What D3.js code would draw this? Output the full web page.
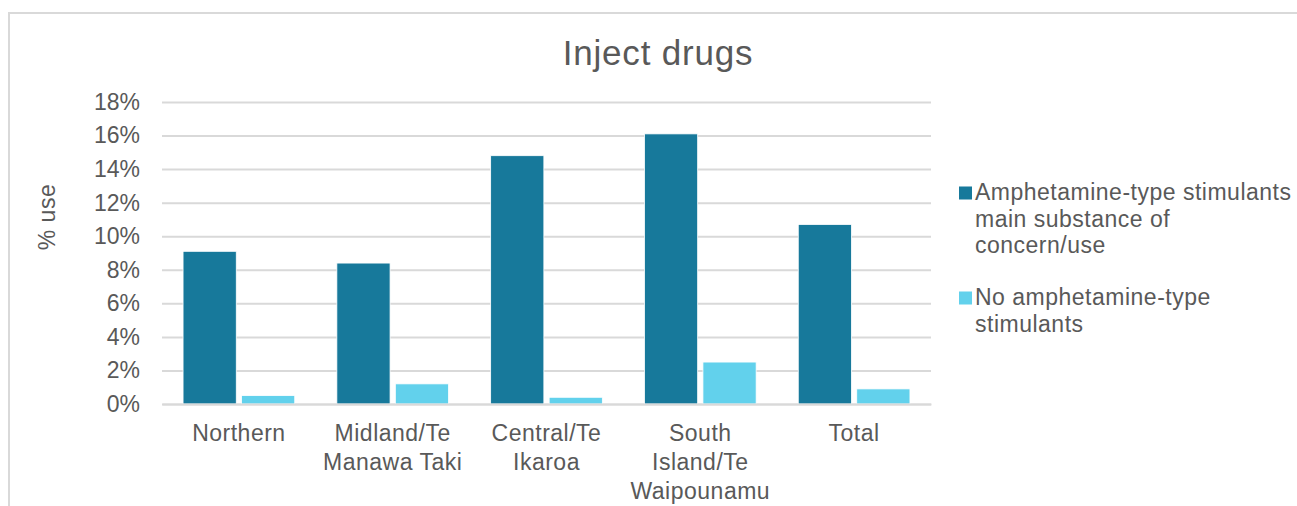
<!DOCTYPE html>
<html>
<head>
<meta charset="utf-8">
<script src="https://cdn.jsdelivr.net/npm/d3@7"></script>
<style>
  html, body { margin: 0; padding: 0; background: #fff; }
  svg { display: block; font-family: "Liberation Sans", Arial, sans-serif; }
</style>
</head>
<body>
<svg id="chart" width="1297" height="506"></svg>
<script>
// Regions and their wrapped axis labels
const categories = ["Northern", "Midland/Te Manawa Taki", "Central/Te Ikaroa", "South Island/Te Waipounamu", "Total"];
const categoryLines = [
  ["Northern"],
  ["Midland/Te", "Manawa Taki"],
  ["Central/Te", "Ikaroa"],
  ["South", "Island/Te", "Waipounamu"],
  ["Total"]
];

// Share injecting drugs, by group
const seriesNames = ["Amphetamine-type stimulants main substance of concern/use", "No amphetamine-type stimulants"];
const seriesLegendLines = [
  ["Amphetamine-type stimulants", "main substance of", "concern/use"],
  ["No amphetamine-type", "stimulants"]
];
const atsMain = [0.091, 0.084, 0.148, 0.161, 0.107];
const noAts = [0.005, 0.012, 0.004, 0.025, 0.009];
const seriesValues = [atsMain, noAts];
const seriesColors = ["#17799b", "#62d1ec"];

const yTicks = [0, 0.02, 0.04, 0.06, 0.08, 0.10, 0.12, 0.14, 0.16, 0.18];

const textColor = "#595959";
const gridColor = "#d9d9d9";
const labelSpacing = 0.5;

const svg = d3.select("#chart");

// Chart frame
svg.append("rect")
  .attr("x", 9).attr("y", 13)
  .attr("width", 1320).attr("height", 520)
  .attr("fill", "none")
  .attr("stroke", gridColor)
  .attr("stroke-width", 2);

const plot = { left: 162, right: 931, top: 102, bottom: 404 };

const x0 = d3.scaleBand().domain(categories).range([plot.left, plot.right]).padding(0);
const x1 = d3.scaleBand().domain(seriesNames).range([0, x0.bandwidth()])
  .paddingInner(0.09).paddingOuter(0.36);
const y = d3.scaleLinear().domain([0, 0.18]).range([plot.bottom, plot.top]);

// Title
svg.append("text")
  .attr("x", 658).attr("y", 65)
  .attr("text-anchor", "middle")
  .attr("font-size", 35)
  .attr("letter-spacing", 0.8)
  .attr("fill", textColor)
  .text("Inject drugs");

// Gridlines and y tick labels
const yAxis = d3.axisLeft(y)
  .tickValues(yTicks)
  .tickSize(-(plot.right - plot.left))
  .tickPadding(22)
  .tickFormat(d3.format(".0%"));

const gy = svg.append("g")
  .attr("transform", `translate(${plot.left},0)`)
  .call(yAxis);
gy.select(".domain").remove();
gy.selectAll(".tick line")
  .attr("stroke", gridColor)
  .attr("stroke-width", 2);
gy.selectAll(".tick text")
  .attr("fill", textColor)
  .attr("font-size", 23)
  .attr("font-family", "Liberation Sans, Arial, sans-serif");

// Y axis title
svg.append("text")
  .attr("transform", "translate(47,217) rotate(-90)")
  .attr("text-anchor", "middle")
  .attr("dominant-baseline", "central")
  .attr("font-size", 23)
  .attr("letter-spacing", labelSpacing)
  .attr("fill", textColor)
  .text("% use");

// Bars
const groups = svg.append("g").selectAll("g")
  .data(categories)
  .join("g")
  .attr("transform", d => `translate(${x0(d)},0)`);

groups.selectAll("rect")
  .data((d, i) => seriesNames.map((s, j) => ({ s, j, v: seriesValues[j][i] })))
  .join("rect")
  .attr("x", d => x1(d.s))
  .attr("width", x1.bandwidth())
  .attr("y", d => y(d.v))
  .attr("height", d => y(0) - y(d.v))
  .attr("fill", d => seriesColors[d.j])
  .attr("stroke", "#ffffff")
  .attr("stroke-width", 0.8);

// X axis line
const xAxis = d3.axisBottom(x0).tickSize(0).tickFormat("");
const gx = svg.append("g")
  .attr("transform", `translate(0,${plot.bottom})`)
  .call(xAxis);
gx.select(".domain")
  .attr("stroke", gridColor)
  .attr("stroke-width", 2);

// Category labels (wrapped)
const labels = svg.append("g").selectAll("text")
  .data(categories)
  .join("text")
  .attr("text-anchor", "middle")
  .attr("font-size", 23)
  .attr("letter-spacing", labelSpacing)
  .attr("fill", textColor)
  .attr("x", d => x0(d) + x0.bandwidth() / 2);
labels.each(function(d, i) {
  d3.select(this).selectAll("tspan")
    .data(categoryLines[i])
    .join("tspan")
    .attr("x", x0(d) + x0.bandwidth() / 2)
    .attr("y", (t, k) => 441 + k * 29)
    .text(t => t);
});

// Legend
const legendTop = [200, 305];
const legend = svg.append("g").selectAll("g")
  .data(seriesNames)
  .join("g");
legend.append("rect")
  .attr("x", 959)
  .attr("y", (d, i) => legendTop[i] - 7 - 6.5)
  .attr("width", 13).attr("height", 13)
  .attr("fill", (d, i) => seriesColors[i]);
legend.append("text")
  .attr("font-size", 23)
  .attr("letter-spacing", labelSpacing)
  .attr("fill", textColor)
  .each(function(d, i) {
    d3.select(this).selectAll("tspan")
      .data(seriesLegendLines[i])
      .join("tspan")
      .attr("x", 975)
      .attr("y", (t, k) => legendTop[i] + k * 26.7)
      .text(t => t);
  });
</script>
</body>
</html>
